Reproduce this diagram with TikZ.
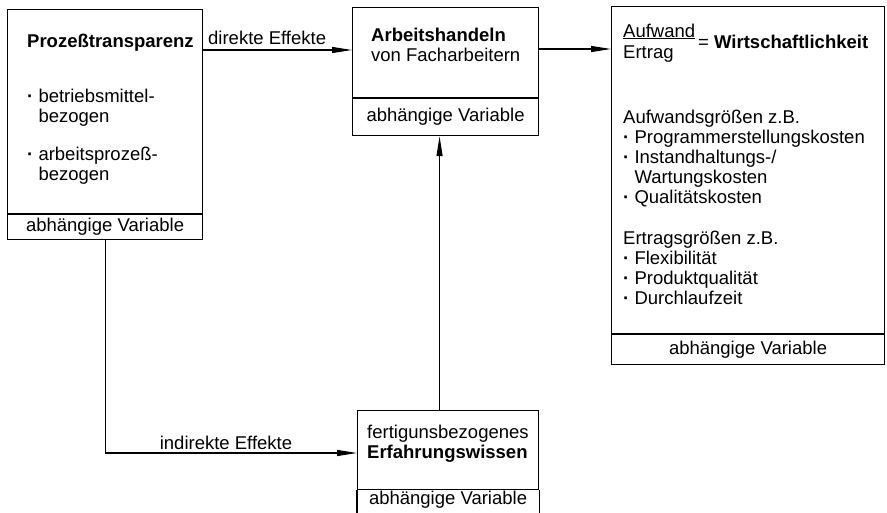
\documentclass[tikz,border=0pt]{standalone}
\usepackage{fontspec}
\setmainfont{Liberation Sans}
\usetikzlibrary{arrows.meta, positioning, calc}

\newcommand{\pkt}{\textbf{\textperiodcentered}\ }
\newcommand{\pktein}{\hphantom{\textbf{\textperiodcentered}\ }}

\tikzset{
  box/.style={draw, line width=1.1pt, anchor=north west, inner sep=0pt,
    font=\fontsize{18.5}{20}\selectfont},
  txt/.style={anchor=north west, inner sep=0pt, align=left,
    font=\fontsize{18.5}{20}\selectfont},
  lbl/.style={inner sep=0pt, font=\fontsize{18.5}{20}\selectfont},
  arr/.style={line width=1.1pt, -{Triangle[length=20pt, width=6pt]}},
}

\begin{document}
\begin{tikzpicture}[x=1pt, y=-1pt]
\useasboundingbox (0,0) rectangle (887,513);

% Prozesstransparenz (links oben)
\node[box, minimum width=195pt, minimum height=204pt] (proz) at (7,9) {};
\node[box, minimum width=195pt, minimum height=25pt] (prozvar) at (proz.south west) {abhängige Variable};
\node[txt] (prozlabel) at (27,33.5) {\textbf{Prozeßtransparenz}\\[35pt]
  \pkt betriebsmittel-\\\pktein bezogen\\[18pt]
  \pkt arbeitsprozeß-\\\pktein bezogen};

% Arbeitshandeln (Mitte oben)
\node[box, minimum width=186pt, minimum height=90pt] (arbeit) at (352,7) {};
\node[box, minimum width=186pt, minimum height=37pt] (arbvar) at (arbeit.south west) {\raisebox{-4pt}{abhängige Variable}};
\node[txt] (arblabel) at (371,27.5) {\textbf{Arbeitshandeln}\\von Facharbeitern};

% Wirtschaftlichkeit (rechts)
\node[box, minimum width=273pt, minimum height=327pt] (wirt) at (611,6) {};
\node[box, minimum width=273pt, minimum height=30pt] (wirtvar) at (wirt.south west) {abhängige Variable};
\node[txt] (wirtfrac) at (623,23.5) {\underline{Aufwand}\\[1pt]Ertrag};
\node[lbl, anchor=base west] (wirtlabel) at (698,49) {= \textbf{Wirtschaftlichkeit}};
\node[txt] (wirtliste) at (623,109.5) {Aufwandsgrößen z.B.\\
  \pkt Programmerstellungskosten\\
  \pkt Instandhaltungs-/\\
  \pktein Wartungskosten\\
  \pkt Qualitätskosten\\[21pt]
  Ertragsgrößen z.B.\\
  \pkt Flexibilität\\
  \pkt Produktqualität\\
  \pkt Durchlaufzeit};

% Erfahrungswissen (unten, nach unten offen)
\node[box, minimum width=181pt, minimum height=79pt] (erf) at (357,410) {};
\node[box, draw=none, minimum width=181pt, minimum height=18pt] (erfvar) at (erf.south west) {abhängige Variable};
\draw[line width=1.1pt] (erfvar.north west) -- ++(0,24);
\draw[line width=1.1pt] (erfvar.north east) -- ++(0,24);
\node[txt] (erflabel) at (367,424.5) {fertigunsbezogenes\\\textbf{Erfahrungswissen}};

% Effekte
\draw[arr] ($(proz.north east)+(0,41)$) -- ($(arbeit.north west)+(0,43)$)
  node[lbl, pos=0.43, above=5pt] (direkt) {direkte Effekte};
\draw[arr] ($(arbeit.north east)+(0,42)$) -- ($(wirt.north west)+(0,43)$);
\draw[arr] (prozvar.south) |- ($(erf.north west)+(0,43)$)
  node[lbl, pos=0.74, above=3pt] (indirekt) {indirekte Effekte};
\draw[arr] ([xshift=-8.5pt]erf.north) -- ([xshift=-6pt]arbvar.south);

\end{tikzpicture}
\end{document}
